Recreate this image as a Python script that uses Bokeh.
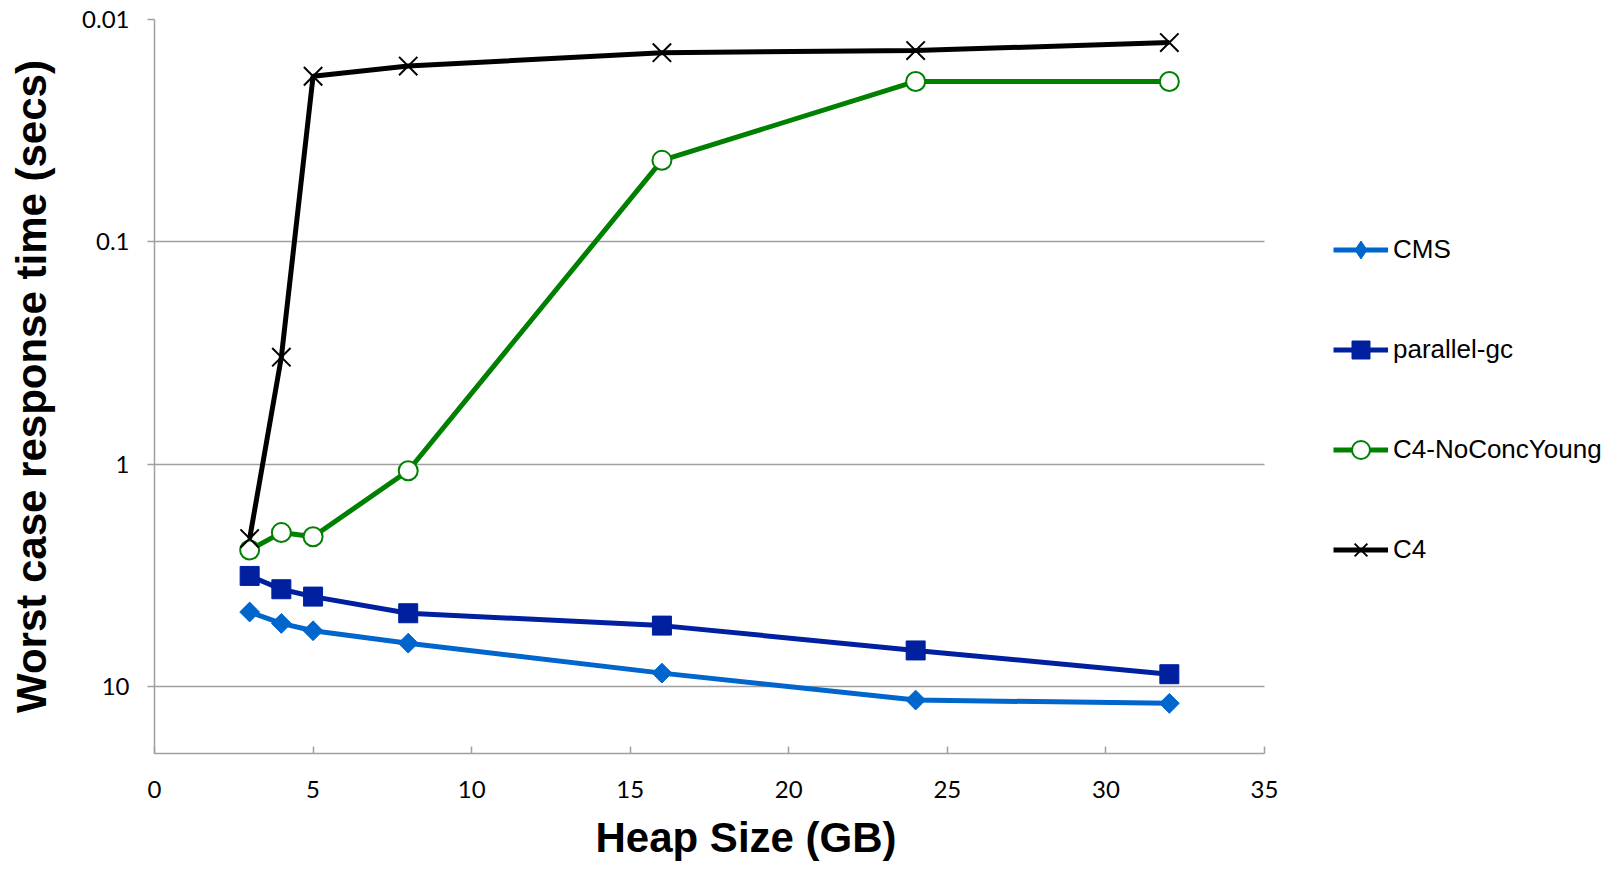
from bokeh.plotting import figure
from bokeh.models import Range1d, FixedTicker, Legend, LegendItem, Title
from bokeh.embed import file_html
from bokeh.resources import INLINE
import numpy as np

heap_gb = [3, 4, 5, 8, 16, 24, 32]
cms = [4.62, 5.2, 5.61, 6.38, 8.7, 11.5, 11.9]
parallel_gc = [3.18, 3.65, 3.94, 4.68, 5.32, 6.88, 8.8]
c4_noconc = [2.43, 2.03, 2.12, 1.07, 0.043, 0.019, 0.019]
c4 = [2.16, 0.33, 0.018, 0.0162, 0.0141, 0.0138, 0.0127]

y_ticks = [0.01, 0.1, 1, 10]
y_tick_labels = ["0.01", "0.1", "1", "10"]
x_ticks = [0, 5, 10, 15, 20, 25, 30, 35]
x_max = 35

# frame spans 154..1624 px; x=35 should land at 1264 px
frame_left, frame_right, x35_px = 154, 1624, 1264
x_end = x_max * (frame_right - frame_left) / (x35_px - frame_left)

p = figure(width=1624, height=872, output_backend="svg", toolbar_location=None,
           y_axis_type="log", x_range=Range1d(0, x_end), y_range=Range1d(20, 0.01),
           min_border_left=frame_left, min_border_top=19, min_border_bottom=119,
           min_border_right=0)
p.outline_line_color = None
p.background_fill_color = "white"
p.border_fill_color = "white"

grid_col = "#A0A0A0"
p.xgrid.grid_line_color = None
ygrid = p.ygrid[0]
try:
    ygrid.cross_bounds = (0, x_max)
    ygrid.grid_line_color = grid_col
    ygrid.grid_line_width = 1.5
except Exception:
    ygrid.grid_line_color = None
    p.segment(x0=[0] * len(y_ticks), x1=[x_max] * len(y_ticks), y0=y_ticks, y1=y_ticks,
              line_color=grid_col, line_width=1.5)

p.yaxis.ticker = FixedTicker(ticks=y_ticks, minor_ticks=[])
p.yaxis.major_label_overrides = {t: l for t, l in zip(y_ticks, y_tick_labels)}
p.xaxis.ticker = FixedTicker(ticks=x_ticks, minor_ticks=[])
p.xaxis.bounds = (0, x_max)

for ax in (p.xaxis[0], p.yaxis[0]):
    ax.axis_line_color = grid_col
    ax.axis_line_width = 1.5
    ax.major_tick_line_color = grid_col
    ax.major_tick_line_width = 1.5
    ax.minor_tick_line_color = None
    ax.major_label_text_font = "Lato"
    ax.major_label_text_font_size = "24px"
    ax.major_label_text_color = "black"
    ax.axis_label_text_font = "Liberation Sans"
    ax.axis_label_text_font_style = "bold"
    ax.axis_label_text_font_size = "42px"
    ax.axis_label_text_color = "black"

p.xaxis.major_tick_in = 7
p.xaxis.major_tick_out = 0
p.xaxis.major_label_standoff = 27

p.yaxis.major_tick_in = 0
p.yaxis.major_tick_out = 7
p.yaxis.major_label_standoff = 18
p.yaxis.axis_label = "Worst case response time (secs)"
p.yaxis.axis_label_standoff = 24

xtitle = Title(text="Heap Size (GB)", align="left", offset=441,
               text_font="Liberation Sans", text_font_style="bold",
               text_font_size="42px", text_color="black", standoff=22)
p.add_layout(xtitle, "below")

lw = 5
l1 = p.line(heap_gb, cms, line_color="#0066CC", line_width=lw)
m1 = p.scatter(heap_gb, cms, marker="square", angle=np.pi / 4, size=14,
               fill_color="#0066CC", line_color="#0066CC")
# legend-only diamond symbol (hidden in the plot)
m1_leg = p.scatter(heap_gb, cms, marker="diamond", size=14, visible=False,
                   fill_color="#0066CC", line_color="#0066CC")
l2 = p.line(heap_gb, parallel_gc, line_color="#00209F", line_width=lw)
m2 = p.scatter(heap_gb, parallel_gc, marker="square", size=19,
               fill_color="#00209F", line_color="#00209F")
l3 = p.line(heap_gb, c4_noconc, line_color="#008000", line_width=lw)
m3 = p.scatter(heap_gb, c4_noconc, marker="circle", size=19,
               fill_color="white", line_color="#008000", line_width=2)
l4 = p.line(heap_gb, c4, line_color="black", line_width=lw)
m4 = p.scatter(heap_gb, c4, marker="x", size=26, line_color="black", line_width=2)

legend = Legend(items=[
    LegendItem(label="CMS", renderers=[l1, m1_leg]),
    LegendItem(label="parallel-gc", renderers=[l2, m2]),
    LegendItem(label="C4-NoConcYoung", renderers=[l3, m3]),
    LegendItem(label="C4", renderers=[l4, m4]),
], location=(1179, 181))
legend.padding = 0
legend.margin = 0
legend.border_line_color = None
legend.background_fill_alpha = 0
legend.inactive_fill_alpha = 0
legend.glyph_width = 55
legend.glyph_height = 45
legend.label_height = 45
legend.spacing = 55
legend.label_standoff = 5
legend.label_text_font = "Liberation Sans"
legend.label_text_font_size = "26px"
legend.label_text_color = "black"
p.add_layout(legend, "center")

open("out.html", "w").write(file_html(p, INLINE))
